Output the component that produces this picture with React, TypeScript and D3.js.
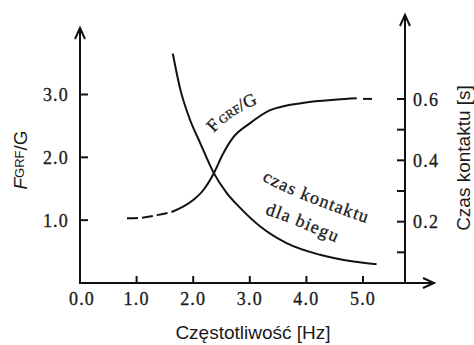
import React from "react";
import * as d3 from "d3";

// ---- data ----
const xTickValues = [0, 1, 2, 3, 4, 5];
const xTickLabels = ["0.0", "1.0", "2.0", "3.0", "4.0", "5.0"];
const leftTickValues = [1, 2, 3];
const leftTickLabels = ["1.0", "2.0", "3.0"];
const rightTickValues = [0.1, 0.2, 0.3, 0.4, 0.5, 0.6];
const rightTickLabels = ["", "0.2", "", "0.4", "", "0.6"];

// F_GRF/G (left axis) – dashed low part, solid middle, dashed end
const fgrfLowFreq = [0.83, 1.1, 1.36, 1.62];
const fgrfLowVal = [1.03, 1.04, 1.08, 1.13];
const fgrfFreq = [1.62, 2.0, 2.18, 2.36, 2.53, 2.71, 3.0, 3.36, 3.96, 4.54, 4.89];
const fgrfVal = [1.13, 1.32, 1.48, 1.74, 2.06, 2.32, 2.54, 2.75, 2.87, 2.92, 2.94];
const fgrfEndFreq = [5.0, 5.16];
const fgrfEndVal = [2.93, 2.93];

// contact time (right axis, s)
const contactFreq = [1.64, 1.77, 1.94, 2.12, 2.36, 2.59, 2.83, 3.18, 3.65, 4.24, 4.83, 5.24];
const contactVal = [0.748, 0.633, 0.534, 0.458, 0.36, 0.294, 0.245, 0.185, 0.13, 0.092, 0.07, 0.061];

const SERIF = "Liberation Serif";
const SANS = "Liberation Sans";

export default function App() {
  const W = 474, H = 345;
  const x0 = 80, yBase = 283, xRight = 405;
  const x = d3.scaleLinear().domain([0, 5]).range([x0, 363]);
  const yL = d3.scaleLinear().domain([0, 3]).range([yBase, 94.5]);
  const yR = d3.scaleLinear().domain([0, 0.6]).range([yBase, 99]);

  const zip = (a: number[], b: number[]) => a.map((v, i) => [v, b[i]] as [number, number]);
  const lineL = d3.line<[number, number]>().x(d => x(d[0])).y(d => yL(d[1])).curve(d3.curveMonotoneX);
  const lineR = d3.line<[number, number]>().x(d => x(d[0])).y(d => yR(d[1])).curve(d3.curveMonotoneX);

  const ink = "#111";
  const sw = 2;
  const tickText = { fontFamily: SERIF, fontSize: 18, letterSpacing: 1.2, fill: "#1a1a1a", stroke: "#1a1a1a", strokeWidth: 0.3 } as const;

  return (
    <svg width={W} height={H} style={{ position: "absolute", left: 0, top: 0, background: "#fff" }}>
      <rect x={0} y={0} width={W} height={H} fill="#fff" />
      {/* axes */}
      <line x1={x0} y1={yBase} x2={x0} y2={28} stroke={ink} strokeWidth={sw} />
      <polyline points={`${x0 - 5},39 ${x0},28 ${x0 + 5},39`} fill="none" stroke={ink} strokeWidth={sw} />
      <line x1={x0 - 1} y1={yBase} x2={434} y2={yBase} stroke={ink} strokeWidth={sw} />
      <polyline points={`423,278 434,${yBase} 423,288`} fill="none" stroke={ink} strokeWidth={sw} />
      <line x1={xRight} y1={yBase} x2={xRight} y2={15} stroke={ink} strokeWidth={sw} />
      <polyline points={`${xRight - 5},26 ${xRight},15 ${xRight + 5},26`} fill="none" stroke={ink} strokeWidth={sw} />

      {/* x ticks */}
      {xTickValues.map((v, i) => (
        <g key={"xt" + i}>
          {v > 0 && <line x1={x(v)} x2={x(v)} y1={yBase} y2={yBase - 7} stroke={ink} strokeWidth={sw} />}
          <text x={x(v) + (v === 0 ? 2 : 0)} y={305} textAnchor="middle" {...tickText}>{xTickLabels[i]}</text>
        </g>
      ))}
      {/* left ticks */}
      {leftTickValues.map((v, i) => (
        <g key={"lt" + i}>
          <line x1={x0} x2={x0 + 8} y1={yL(v)} y2={yL(v)} stroke={ink} strokeWidth={sw} />
          <text x={69} y={yL(v) + 6.5} textAnchor="end" {...tickText}>{leftTickLabels[i]}</text>
        </g>
      ))}
      {/* right ticks */}
      {rightTickValues.map((v, i) => (
        <g key={"rt" + i}>
          <line x1={xRight - 8} x2={xRight} y1={yR(v)} y2={yR(v)} stroke={ink} strokeWidth={sw} />
          {rightTickLabels[i] && (
            <text x={413} y={yR(v) + 6.5} textAnchor="start" {...tickText}>{rightTickLabels[i]}</text>
          )}
        </g>
      ))}

      {/* curves */}
      <path d={lineL(zip(fgrfLowFreq, fgrfLowVal)) || ""} fill="none" stroke={ink} strokeWidth={sw} strokeDasharray="11,4" />
      <path d={lineL(zip(fgrfFreq, fgrfVal)) || ""} fill="none" stroke={ink} strokeWidth={sw} />
      <path d={lineL(zip(fgrfEndFreq, fgrfEndVal)) || ""} fill="none" stroke={ink} strokeWidth={sw} />
      <path d={lineR(zip(contactFreq, contactVal)) || ""} fill="none" stroke={ink} strokeWidth={sw} />

      {/* curve labels */}
      <defs>
        <path id="pF" d="M214,133 Q234,110 272,99" />
        <path id="pC" d="M262,180 Q290,197 375,226" />
        <path id="pD" d="M265,214 Q300,226 350,249" />
      </defs>
      <text fontFamily={SERIF} fontSize={18} fill="#1a1a1a" stroke="#1a1a1a" strokeWidth={0.3}>
        <textPath href="#pF">
          F<tspan fontSize={12} dx={2}>GRF</tspan>/G
        </textPath>
      </text>
      <text fontFamily={SERIF} fontSize={18} letterSpacing={1.2} fill="#1a1a1a" stroke="#1a1a1a" strokeWidth={0.3}>
        <textPath href="#pC">czas kontaktu</textPath>
      </text>
      <text fontFamily={SERIF} fontSize={18} letterSpacing={1.2} fill="#1a1a1a" stroke="#1a1a1a" strokeWidth={0.3}>
        <textPath href="#pD">dla biegu</textPath>
      </text>

      {/* axis titles */}
      <text transform="translate(27,160) rotate(-90)" textAnchor="middle" fontFamily={SANS} fontSize={19} fill="#1a1a1a">
        <tspan fontStyle="italic">F</tspan><tspan fontSize={13} dy={-3}>GRF</tspan><tspan dy={3}>/G</tspan>
      </text>
      <text transform="translate(470,158) rotate(-90)" textAnchor="middle" fontFamily={SANS} fontSize={19} fill="#1a1a1a">
        Czas kontaktu [s]
      </text>
      <text x={253} y={339} textAnchor="middle" fontFamily={SANS} fontSize={19} fill="#1a1a1a">
        Częstotliwość [Hz]
      </text>
    </svg>
  );
}
